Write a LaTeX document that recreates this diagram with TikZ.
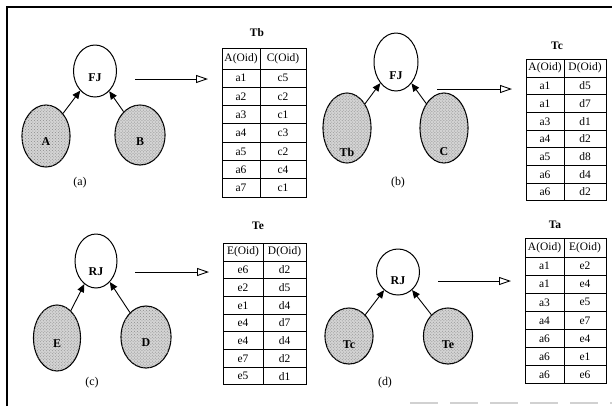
\documentclass[tikz,border=0pt]{standalone}
\usepackage{fontspec}
\setmainfont{Liberation Serif}
\usetikzlibrary{arrows.meta, shapes.geometric, matrix, patterns}

\tikzset{
  every label/.style = {font=\bfseries\fontsize{12}{14}\selectfont},
  rel/.style = {ellipse, draw, line width=1.1bp, fill=black!17, inner sep=0pt,
                postaction={pattern=crosshatch dots, pattern color=black!45}},
  op/.style = {ellipse, draw, line width=1bp, fill=white, inner sep=0pt},
  feed/.style = {line width=0.9bp, -{Triangle[length=8bp, width=7bp]}},
  result/.style = {line width=0.9bp, shorten >=10bp,
                   -{Triangle[open, length=12bp, width=8bp]}},
  tabname/.style = {font=\bfseries\fontsize{11.5}{14}\selectfont},
  caption/.style = {font=\fontsize{12}{14}\selectfont},
  reltab/.style n args = {4}{matrix of nodes, anchor=north west,
    column sep=-1bp, row sep=-1bp,
    nodes = {draw, line width=1bp, inner sep=0pt, anchor=center,
             minimum height=#3, font=\fontsize{11.5}{13}\selectfont},
    column 1/.style = {nodes={minimum width=#1}},
    column 2/.style = {nodes={minimum width=#2}},
    row 1/.style = {nodes={minimum height=#4}}}
}

\begin{document}
\begin{tikzpicture}[x=1bp, y=-1bp]
\useasboundingbox (0,0) rectangle (612,406);

% page frame
\draw[line width=1.3bp] (7,406) -- (7,7) -- (612,7);
\draw[black!18, line width=1.5bp, dash pattern=on 28bp off 12bp] (410,403) -- (612,403);

% (a) FJ of A and B
\node[op, minimum width=43bp, minimum height=52bp, label={[yshift=-7bp]center:FJ}] (fja) at (95,71) {};
\node[rel, minimum width=48bp, minimum height=62bp, label={[yshift=-6bp]center:A}] (a) at (46,136) {};
\node[rel, minimum width=50bp, minimum height=60bp, label={[yshift=-7bp]center:B}] (b) at (140,135) {};
\draw[feed] (a) -- (fja);
\draw[feed] (b) -- (fja);
\node[caption] (capa) at (80,183) {(a)};

\node[tabname] (tbname) at (257,33) {Tb};
\matrix[reltab={38bp}{46bp}{18.3bp}{21bp}] (tb) at (218,44) {
  A(Oid) & C(Oid) \\
  a1 & c5 \\ a2 & c2 \\ a3 & c1 \\ a4 & c3 \\ a5 & c2 \\ a6 & c4 \\ a7 & c1 \\
};
\coordinate (outa) at (135,79);
\draw[result] (outa) -- (outa -| tb.west);

% (b) FJ of Tb and C
\node[op, minimum width=44bp, minimum height=58bp, label={[yshift=-14bp]center:FJ}] (fjb) at (396,62) {};
\node[rel, minimum width=48bp, minimum height=70bp, label={[yshift=-24bp]center:Tb}] (tbrel) at (347,128) {};
\node[rel, minimum width=48bp, minimum height=70bp, label={[yshift=-24bp]center:C}] (c) at (444,128) {};
\draw[feed] (tbrel) -- (fjb);
\draw[feed] (c) -- (fjb);
\node[caption] (capb) at (398,183) {(b)};

\node[tabname] (tcname) at (557,46) {Tc};
\matrix[reltab={38bp}{42bp}{17.7bp}{18bp}] (tc) at (522,55) {
  A(Oid) & D(Oid) \\
  a1 & d5 \\ a1 & d7 \\ a3 & d1 \\ a4 & d2 \\ a5 & d8 \\ a6 & d4 \\ a6 & d2 \\
};
\coordinate (outb) at (437,89);
\draw[result] (outb) -- (outb -| tc.west);

% (c) RJ of E and D
\node[op, minimum width=42bp, minimum height=54bp, label={[yshift=-11bp]center:RJ}] (rjc) at (96,261) {};
\node[rel, minimum width=47bp, minimum height=66bp, label={[yshift=-6bp]center:E}] (e) at (57,338) {};
\node[rel, minimum width=50bp, minimum height=62bp, label={[yshift=-6bp]center:D}] (d) at (146,337) {};
\draw[feed] (e) -- (rjc);
\draw[feed] (d) -- (rjc);
\node[caption] (capc) at (92,383) {(c)};

\node[tabname] (tename) at (258,226) {Te};
\matrix[reltab={40bp}{43bp}{17.7bp}{18bp}] (te) at (219,239) {
  E(Oid) & D(Oid) \\
  e6 & d2 \\ e2 & d5 \\ e1 & d4 \\ e4 & d7 \\ e4 & d4 \\ e7 & d2 \\ e5 & d1 \\
};
\coordinate (outc) at (135,272);
\draw[result] (outc) -- (outc -| te.west);

% (d) RJ of Tc and Te
\node[op, minimum width=43bp, minimum height=46bp, label={[yshift=-9bp]center:RJ}] (rjd) at (398,272) {};
\node[rel, minimum width=48bp, minimum height=56bp, label={[yshift=-9bp]center:Tc}] (tcrel) at (349,336) {};
\node[rel, minimum width=49bp, minimum height=56bp, label={[yshift=-9bp]center:Te}] (terel) at (448,336) {};
\draw[feed] (tcrel) -- (rjd);
\draw[feed] (terel) -- (rjd);
\node[caption] (capd) at (385,383) {(d)};

\node[tabname] (taname) at (555,225) {Ta};
\matrix[reltab={39bp}{42bp}{18.1bp}{19bp}] (ta) at (521,234) {
  A(Oid) & E(Oid) \\
  a1 & e2 \\ a1 & e4 \\ a3 & e5 \\ a4 & e7 \\ a6 & e4 \\ a6 & e1 \\ a6 & e6 \\
};
\coordinate (outd) at (438,281);
\draw[result] (outd) -- (outd -| ta.west);
\end{tikzpicture}
\end{document}
